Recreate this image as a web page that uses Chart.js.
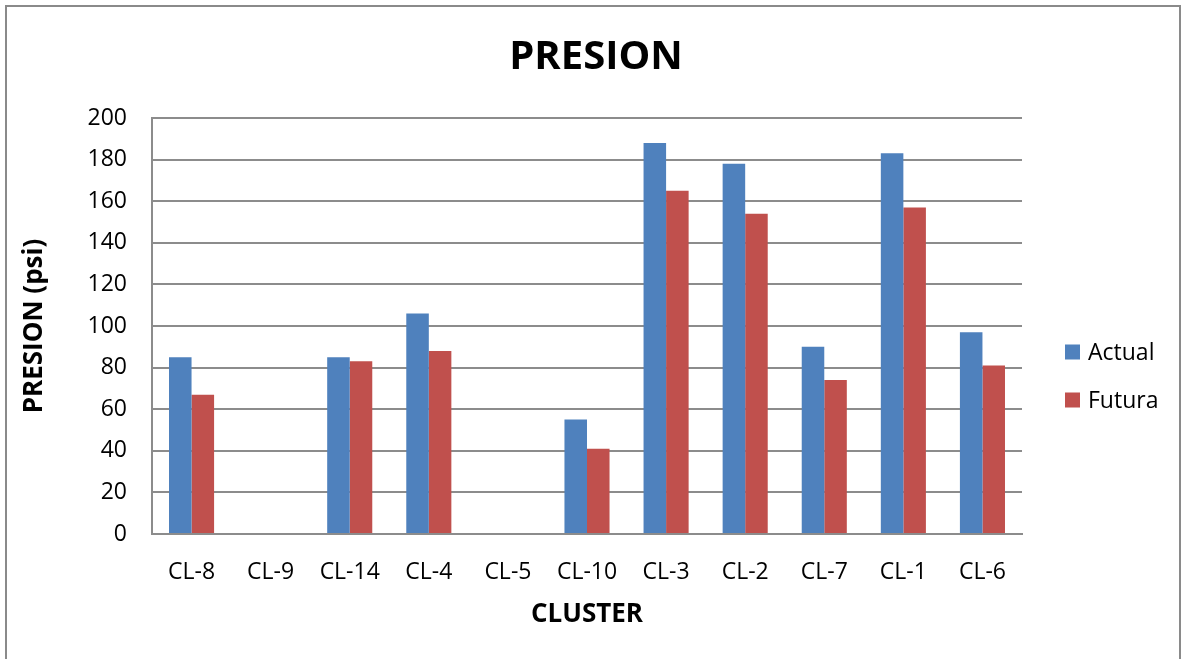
<!DOCTYPE html>
<html>
<head>
<meta charset="utf-8">
<script src="https://cdn.jsdelivr.net/npm/chart.js@4/dist/chart.umd.min.js"></script>
<style>
  html, body { margin: 0; padding: 0; background: #ffffff; }
  canvas { display: block; }
</style>
</head>
<body>
<canvas id="chart" width="1186" height="659"></canvas>
<script>
// Pressure per cluster, current vs. future (psi)
const categories = ['CL-8', 'CL-9', 'CL-14', 'CL-4', 'CL-5', 'CL-10', 'CL-3', 'CL-2', 'CL-7', 'CL-1', 'CL-6'];
const actual = [85, 0, 85, 106, 0, 55, 188, 178, 90, 183, 97];
const futura = [67, 0, 83, 88, 0, 41, 165, 154, 74, 157, 81];
const seriesNames = ['Actual', 'Futura'];
const yMin = 0, yMax = 200, yStep = 20;

const BLUE = '#4f81bd';
const RED = '#c0504d';
const GRID = '#8c8c8c';
const FONT = "'Open Sans', 'DejaVu Sans', sans-serif";

Chart.defaults.font.family = FONT;
Chart.defaults.color = '#000000';

// Outer frame and white backdrop
const framePlugin = {
  id: 'frame',
  beforeDraw(chart) {
    const ctx = chart.ctx;
    ctx.save();
    ctx.fillStyle = '#ffffff';
    ctx.fillRect(0, 0, chart.width, chart.height);
    ctx.strokeStyle = '#8a8a8a';
    ctx.lineWidth = 2;
    ctx.strokeRect(6, 6, chart.width - 12, chart.height + 20);
    ctx.restore();
  }
};

// Center the main title over the whole frame, not just the plot + axes
const titleSpan = {
  id: 'titleSpan',
  afterLayout(chart) {
    if (chart.titleBlock) {
      chart.titleBlock.left = 6;
      chart.titleBlock.right = chart.width;
    }
  }
};

// Legend on the right, built from the datasets
const sideLegend = {
  id: 'sideLegend',
  afterDraw(chart) {
    const ctx = chart.ctx;
    const area = chart.chartArea;
    const x = area.right + 43;
    const y0 = area.top + 234;
    const gap = 48;
    ctx.save();
    ctx.font = '23px ' + FONT;
    ctx.textBaseline = 'middle';
    ctx.textAlign = 'left';
    chart.data.datasets.forEach((ds, i) => {
      const cy = y0 + i * gap;
      ctx.fillStyle = ds.backgroundColor;
      ctx.fillRect(x, cy - 7.5, 15, 15);
      ctx.fillStyle = '#000000';
      ctx.fillText(ds.label, x + 23, cy + 1);
    });
    ctx.restore();
  }
};

new Chart(document.getElementById('chart'), {
  type: 'bar',
  data: {
    labels: categories,
    datasets: [
      { label: seriesNames[0], data: actual, backgroundColor: BLUE, borderWidth: 0 },
      { label: seriesNames[1], data: futura, backgroundColor: RED, borderWidth: 0 }
    ]
  },
  options: {
    responsive: false,
    animation: false,
    events: [],
    layout: { padding: { left: 6, right: 164, top: 0, bottom: 0 } },
    datasets: { bar: { categoryPercentage: 0.57, barPercentage: 1.0 } },
    plugins: {
      legend: { display: false },
      tooltip: { enabled: false },
      title: {
        display: true,
        text: 'PRESION',
        color: '#000000',
        font: { family: FONT, size: 40, weight: 'bold', lineHeight: 1.2 },
        padding: { top: 34, bottom: 36 }
      }
    },
    scales: {
      x: {
        grid: { display: false, drawTicks: false },
        border: { display: true, color: GRID, width: 2 },
        ticks: { padding: 25, color: '#000000', font: { size: 23 }, maxRotation: 0, autoSkip: false },
        title: {
          display: true,
          text: 'CLUSTER',
          color: '#000000',
          font: { size: 26, weight: 'bold', lineHeight: 1.2 },
          padding: { top: 0, bottom: 29 }
        },
        afterFit(scale) { scale.height = 125; }
      },
      y: {
        min: yMin,
        max: yMax,
        grid: { color: GRID, lineWidth: 2, drawTicks: false },
        border: { display: true, color: GRID, width: 2 },
        ticks: { stepSize: yStep, padding: 25, color: '#000000', font: { size: 23 } },
        title: {
          display: true,
          text: 'PRESION (psi)',
          color: '#000000',
          font: { size: 26, weight: 'bold', lineHeight: 1.2 },
          padding: { top: 13, bottom: 0 }
        },
        afterFit(scale) { scale.width = 146; }
      }
    }
  },
  plugins: [framePlugin, titleSpan, sideLegend]
});
</script>
</body>
</html>
